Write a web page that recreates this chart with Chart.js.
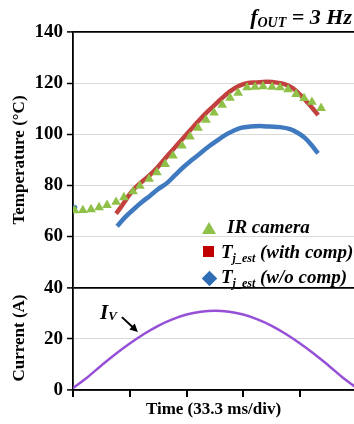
<!DOCTYPE html>
<html><head><meta charset="utf-8">
<script src="https://cdn.jsdelivr.net/npm/chart.js@4"></script>
<style>
html,body{margin:0;padding:0;background:#fff;}
#wrap{position:relative;width:354px;height:424px;overflow:hidden;font-family:"Liberation Serif","Times New Roman",serif;font-weight:bold;color:#000;}
canvas{position:absolute;left:0;top:0;}
.abs{position:absolute;white-space:nowrap;}
.it{font-style:italic;}
.ytitle{position:absolute;white-space:nowrap;font-size:17px;line-height:17px;transform:translate(-50%,-50%) rotate(-90deg);}
.leg{position:absolute;white-space:nowrap;font-size:19px;line-height:19px;font-style:italic;}
.leg sub{font-size:12px;vertical-align:-4px;line-height:0;}
.mk{position:absolute;}
</style></head>
<body>
<div id="wrap">
<canvas id="c" width="354" height="424"></canvas>
<div class="abs it" style="right:2px;top:6px;font-size:22px;line-height:22px;">f<sub style="font-size:14px;vertical-align:-3px;line-height:0;">OUT</sub> = 3 Hz</div>
<div class="ytitle" style="left:18px;top:160px;">Temperature (°C)</div>
<div class="ytitle" style="left:18px;top:338px;">Current (A)</div>
<div class="mk" style="left:202px;top:222px;width:0;height:0;border-left:7.5px solid transparent;border-right:7.5px solid transparent;border-bottom:12px solid #8fc047;"></div>
<div class="leg" style="left:227px;top:217px;">IR camera</div>
<div class="mk" style="left:203px;top:246px;width:11px;height:11px;background:#c00000;"></div>
<div class="leg" style="left:221px;top:242px;">T<sub>j_est</sub> (with comp)</div>
<div class="mk" style="left:204px;top:273px;width:11px;height:11px;background:#2e6db4;transform:rotate(45deg);"></div>
<div class="leg" style="left:221px;top:267px;">T<sub>j_est</sub> (w/o comp)</div>
<div class="abs it" style="left:100px;top:302px;font-size:21px;line-height:21px;">I<sub style="font-size:13px;vertical-align:-1px;line-height:0;">V</sub></div>
</div>
<script>
// ---- data (time in ms, temperature in °C, current in A) ----
const timeTicks = [0, 33.3, 66.7, 100, 133.3];
const yTicks = [0, 20, 40, 60, 80, 100, 120, 140];

const irTime = [1, 5.8, 10.6, 15.3, 20.0, 25.3, 29.9, 35.3, 39.3, 44.7, 49.3, 54.1, 58.7, 64.0, 68.7, 73.4, 78.1, 82.8, 87.6, 92.2, 97.0, 102.2, 106.9, 111.6, 116.9, 121.6, 126.3, 131.0, 135.7, 140.3, 145.7];
const irTemp = [70.2, 70.3, 70.6, 71.4, 72.3, 73.5, 75.3, 77.6, 79.8, 82.5, 85.1, 88.3, 91.6, 95.5, 99.1, 102.5, 105.6, 108.4, 111.5, 114.2, 116.2, 118.3, 118.5, 118.7, 118.5, 118.3, 117.5, 115.7, 114.1, 112.6, 110.2];

const withTime = [25.3, 27.6, 30.2, 32.7, 35.7, 39.3, 44.7, 49.3, 54.1, 58.7, 64.0, 68.7, 73.4, 78.1, 82.8, 87.6, 92.2, 97.0, 102.2, 108.0, 114.0, 119.8, 124.6, 129.2, 133.3, 136.9, 140.9, 143.9];
const withTemp = [69, 71, 73.5, 76, 78.5, 80.8, 83.8, 86.8, 90.5, 94, 98, 101.5, 105, 108.3, 111.2, 114.2, 116.8, 118.8, 120, 120.3, 120.5, 120.2, 119.5, 118, 115.5, 113, 110, 107.5];

const woTime = [25.9, 30.5, 35.3, 40.5, 45.3, 49.9, 55.3, 59.9, 64.6, 69.9, 74.6, 79.3, 84.6, 89.3, 94.0, 98.6, 104.0, 109.8, 115.7, 121.6, 127.5, 132.1, 136.3, 139.8, 143.9];
const woTemp = [64, 67.5, 70.5, 73.5, 76, 78.5, 81, 84, 87, 90, 92.5, 95, 97.5, 99.7, 101.3, 102.5, 103, 103.2, 103, 102.8, 102, 100.5, 98.5, 96, 92.5];
const woStrayTime = [1];
const woStrayTemp = [71.5];

const curTime = [0, 8.33, 16.67, 25, 33.33, 41.67, 50, 58.33, 66.67, 75, 83.33, 91.67, 100, 108.33, 116.67, 125, 133.33, 141.67, 150, 158.33, 166.7];
const curVal = [0.8, 4.9, 9.6, 14.1, 18.2, 21.9, 25.1, 27.6, 29.5, 30.6, 31.0, 30.6, 29.5, 27.6, 25.1, 21.9, 18.2, 14.1, 9.6, 4.9, 0.8];

const arrowFrom = [28.7, 28.5];
const arrowTo = [38.1, 22.7];

const pts = (xs, ys) => xs.map((v, i) => ({x: v, y: ys[i]}));
const FONT = '"Liberation Serif","Times New Roman",serif';

const arrowPlugin = {
  id: 'ivArrow',
  afterDatasetsDraw(chart) {
    const {ctx, scales: {x, y}} = chart;
    const x0 = x.getPixelForValue(arrowFrom[0]), y0 = y.getPixelForValue(arrowFrom[1]);
    const x1 = x.getPixelForValue(arrowTo[0]), y1 = y.getPixelForValue(arrowTo[1]);
    const a = Math.atan2(y1 - y0, x1 - x0);
    ctx.save();
    ctx.strokeStyle = '#000'; ctx.fillStyle = '#000'; ctx.lineWidth = 2;
    ctx.beginPath(); ctx.moveTo(x0, y0);
    ctx.lineTo(x1 - 5 * Math.cos(a), y1 - 5 * Math.sin(a)); ctx.stroke();
    ctx.beginPath(); ctx.moveTo(x1, y1);
    ctx.lineTo(x1 - 8 * Math.cos(a) + 4 * Math.sin(a), y1 - 8 * Math.sin(a) - 4 * Math.cos(a));
    ctx.lineTo(x1 - 8 * Math.cos(a) - 4 * Math.sin(a), y1 - 8 * Math.sin(a) + 4 * Math.cos(a));
    ctx.closePath(); ctx.fill();
    ctx.restore();
  }
};

// draws the time-division tick marks below the x axis at the scale's own tick values
const xTickPlugin = {
  id: 'xTicks',
  afterDraw(chart) {
    const {ctx, scales: {x}} = chart;
    ctx.save();
    ctx.fillStyle = '#000';
    timeTicks.forEach(v => {
      const px = Math.round(x.getPixelForValue(v));
      ctx.fillRect(px - 1, x.top, 2, 7);
    });
    ctx.restore();
  }
};

new Chart(document.getElementById('c'), {
  type: 'scatter',
  data: {
    datasets: [
      {label: 'IR camera', data: pts(irTime, irTemp), pointStyle: 'triangle', pointRadius: 5.6,
       backgroundColor: '#8fc047', borderColor: '#8fc047', borderWidth: 0, showLine: false, order: 0},
      {label: 'Tj_est (with comp)', data: pts(withTime, withTemp), showLine: true, pointRadius: 0,
       borderColor: '#c2413e', borderWidth: 4.5, tension: 0.35, order: 1},
      {label: 'Tj_est (w/o comp)', data: pts(woTime, woTemp), showLine: true, pointRadius: 0,
       borderColor: '#3f79bf', borderWidth: 4.5, tension: 0.35, order: 2},
      {label: 'Tj_est (w/o comp) start', data: pts(woStrayTime, woStrayTemp), showLine: false, pointRadius: 2.5,
       backgroundColor: '#3f79bf', borderWidth: 0, order: 2},
      {label: 'IV', data: pts(curTime, curVal), showLine: true, pointRadius: 0,
       borderColor: '#9650d6', borderWidth: 2.5, tension: 0.4, order: 3}
    ]
  },
  options: {
    responsive: false, animation: false, devicePixelRatio: 1,
    layout: {autoPadding: false, padding: {top: 32, right: 0, left: 0, bottom: 0}},
    plugins: {legend: {display: false}, tooltip: {enabled: false}},
    scales: {
      x: {
        type: 'linear', min: 0, max: 165,
        afterBuildTicks: s => { s.ticks = timeTicks.map(v => ({value: v})); },
        afterFit: s => { s.height = 34; },
        ticks: {display: false},
        grid: {display: false, drawOnChartArea: false, drawTicks: false},
        border: {display: true, color: '#000', width: 1.5},
        title: {display: true, text: 'Time (33.3 ms/div)', color: '#000', font: {family: FONT, size: 17, weight: 'bold'}, padding: {top: 0, bottom: 4}}
      },
      y: {
        min: 0, max: 140,
        afterBuildTicks: s => { s.ticks = yTicks.map(v => ({value: v})); },
        afterFit: s => { s.width = 73; },
        ticks: {color: '#000', font: {family: FONT, size: 19, weight: 'bold'}, padding: 4, autoSkip: false},
        grid: {
          color: c => ([0, 40, 140].includes(c.tick.value) ? '#000' : '#d9d9d9'),
          lineWidth: c => ([0, 40, 140].includes(c.tick.value) ? 1.8 : 1),
          tickColor: '#000', tickLength: 6, tickWidth: 1.5
        },
        border: {display: true, color: '#000', width: 1.8}
      }
    }
  },
  plugins: [arrowPlugin, xTickPlugin]
});
</script>
</body></html>
